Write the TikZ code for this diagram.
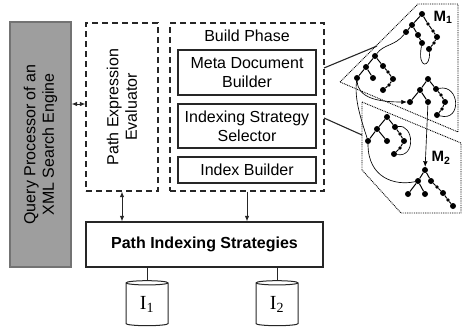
\documentclass[tikz,border=0pt]{standalone}
\usepackage{fontspec}
\setmainfont{Liberation Sans}
\newfontfamily\serifface{Liberation Serif}
\usetikzlibrary{shapes.geometric,arrows.meta}
\begin{document}
\begin{tikzpicture}[x=1pt,y=-1pt,
  font=\fontsize{16}{19}\selectfont,
  box/.style={draw=black!85,line width=1.2pt,inner sep=0pt,align=center},
  dashbox/.style={box,dash pattern=on 6pt off 4pt},
  rottext/.style={rotate=90,align=center,font=\fontsize{16}{18.5}\selectfont},
  tip/.style={-{Latex[length=5.5pt,width=4.5pt]}},
  dtip/.style={{Latex[length=5.5pt,width=4.5pt]}-{Latex[length=5.5pt,width=4.5pt]}},
  conn/.style={line width=1.1pt,black!85},
  store/.style={cylinder,shape border rotate=90,draw=black!85,line width=1pt,
    aspect=0.3,minimum width=42pt,minimum height=45pt,inner sep=0pt,
    font=\serifface\fontsize{20}{20}\selectfont},
  region/.style={line width=0.9pt,dash pattern=on 0.9pt off 0.9pt},
  bigdot/.style={circle,fill=black,inner sep=0pt,minimum size=6pt},
  smalldot/.style={circle,fill=black,inner sep=0pt,minimum size=3.6pt},
  treeedge/.style={line width=1pt},
  link/.style={line width=0.65pt},
  mlabel/.style={font=\bfseries\fontsize{15}{15}\selectfont}
]
\useasboundingbox (0,0) rectangle (462,330);

% left: query processor
\node[box,fill=black!38,draw=black!55,minimum width=61pt,minimum height=245pt] (qp) at (40.5,144.5) {};
\node[rottext] (qptext) at (qp.center) {Query Processor of an\\XML Search Engine};

% path expression evaluator
\node[dashbox,minimum width=72pt,minimum height=168pt] (pee) at (122,107) {};
\node[rottext] (peetext) at (pee.center) {Path Expression\\Evaluator};

% build phase with its three components
\node[dashbox,minimum width=154pt,minimum height=168pt] (bp) at (247,107) {};
\node (bptitle) at (247,36) {Build Phase};
\node[box,minimum width=138pt,minimum height=45pt] (mdb) at (247,72.5) {Meta Document\\Builder};
\node[box,minimum width=138pt,minimum height=44pt] (iss) at (247,126) {Indexing Strategy\\Selector};
\node[box,minimum width=138pt,minimum height=26pt] (ib) at (247,170) {Index Builder};

% strategies and index stores
\node[box,minimum width=237pt,minimum height=45pt,font=\bfseries\fontsize{16}{19}\selectfont] (pis) at (204.5,244.5) {Path Indexing Strategies};
\node[store] (i1) at (147,304.5) {\raisebox{-7pt}{I\textsubscript{1}}};
\node[store] (i2) at (277,304.5) {\raisebox{-7pt}{I\textsubscript{2}}};

% connectors between the blocks
\coordinate (qpy) at (0,104);
\draw[conn,dtip,line width=0.9pt] (qp.east |- qpy) -- (pee.west |- qpy);
\draw[conn,dtip,line width=0.9pt] (pee.south) -- (pee.south |- pis.north);
\draw[conn,tip,line width=0.9pt] (bp.south) -- (bp.south |- pis.north);
\draw[conn,line width=0.9pt] (i1.north |- pis.south) -- (i1.north);
\draw[conn,line width=0.9pt] (i2.north |- pis.south) -- (i2.north);

% meta document regions
\coordinate (m1a) at (340,82);
\coordinate (m1b) at (418,4);
\coordinate (m1c) at (458,4);
\coordinate (m1d) at (458,132);
\draw[region] (m1a) -- (m1b) -- (m1c) -- (m1d) -- cycle;
\coordinate (m2a) at (362,102);
\coordinate (m2b) at (461,143);
\coordinate (m2c) at (461,213);
\coordinate (m2d) at (401,213);
\coordinate (m2e) at (362,170);
\draw[region] (m2a) -- (m2b) -- (m2c) -- (m2d) -- (m2e) -- cycle;
\node[mlabel] (m1) at (443,17) {M\textsubscript{1}};
\node[mlabel] (m2) at (441,158) {M\textsubscript{2}};

% links from the build phase to the regions
\coordinate (bpo1) at (324,68);
\coordinate (m1in) at (377,46);
\coordinate (bpo2) at (324,118);
\coordinate (m2in) at (362,135);
\draw[conn] (bpo1) -- (m1in);
\draw[conn] (bpo2) -- (m2in);

% document trees
\foreach \n/\x/\y in {A0/422/14,A1/412/25,A2/406/32,A3/418/35,A4/422/43,A7/437/37,A9/429/49,
  B0/375/56,B1/366/67,B2/357/78,B3/373/78,B4/383/66,B6/393/79,B8/383/90,
  C0/428/79,C1/420/90,C2/410/102,C3/428/102,C4/436/89,C6/445/102,C8/437/115,
  D0/387/117,D1/377/129,D2/368/141,D3/387/141,D4/395/127,D6/404/141,D8/394/154,
  E0/425/170,E1/418/181,E2/408/194,E3/425/194,E4/431/181,E6/443/193,E8/453/206}
  \node[bigdot] (\n) at (\x,\y) {};
\foreach \n/\x/\y in {A5/428/24,A6/433/31,A8/434/43,B5/388/72,B7/389/85,
  C5/441/95,C7/442/109,D5/400/134,D7/400/148,E5/437/187,E7/448/200}
  \node[smalldot] (\n) at (\x,\y) {};

\draw[treeedge] (A0) -- (A1) -- (A2) (A1) -- (A3) -- (A4)
  (A0) -- (A5) -- (A6) -- (A7) -- (A8) -- (A9);
\draw[treeedge] (B0) -- (B1) -- (B2) (B1) -- (B3)
  (B0) -- (B4) -- (B5) -- (B6) -- (B7) -- (B8);
\draw[treeedge] (C0) -- (C1) -- (C2) (C1) -- (C3)
  (C0) -- (C4) -- (C5) -- (C6) -- (C7) -- (C8);
\draw[treeedge] (D0) -- (D1) -- (D2) (D1) -- (D3)
  (D0) -- (D4) -- (D5) -- (D6) -- (D7) -- (D8);
\draw[treeedge] (E0) -- (E1) -- (E2) (E1) -- (E3)
  (E0) -- (E4) -- (E5) -- (E6) -- (E7) -- (E8);

% reference links inside and across the trees
\draw[link] (A4) .. controls (417,70) and (431,68) .. (A9);
\draw[link] (C4) .. controls (460,84) and (462,122) .. (C8);
\draw[link] (D4) .. controls (414,124) and (416,158) .. (D8);
\draw[link] (A2) .. controls (395,46) and (384,44) .. (B0);
\draw[link,tip] (B2) .. controls (358,98) and (378,102) .. (C2);
\draw[link] (B2) .. controls (354,100) and (362,122) .. (D2);
\draw[link] (D2) .. controls (368,178) and (395,186) .. (E1);
\draw[link,tip] (C3) -- (E0);
\end{tikzpicture}
\end{document}
